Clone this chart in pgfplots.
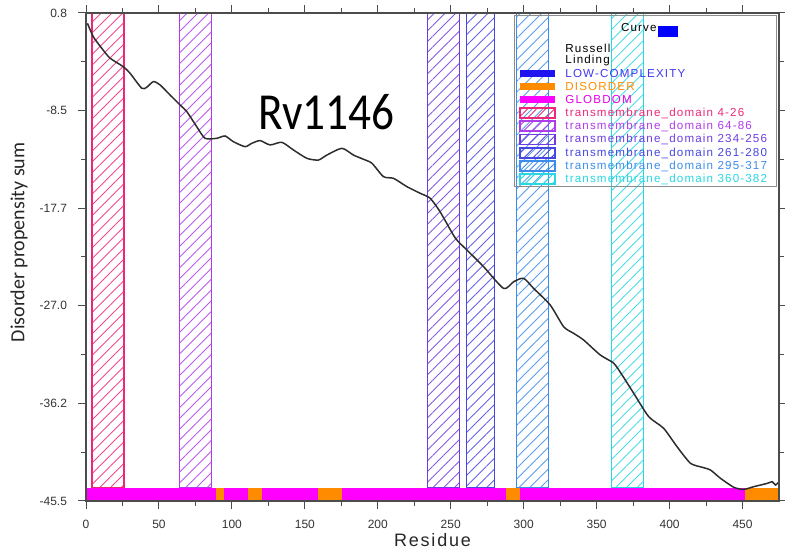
\documentclass[border=0pt]{standalone}
\usepackage{pgfplots}
\pgfplotsset{compat=1.18}
\usepackage{fontspec}
\setmainfont{Liberation Sans}
\newfontfamily\carl{Carlito}
\newfontfamily\legfont{Liberation Sans}[LetterSpace=10]
\usetikzlibrary{patterns.meta}

\definecolor{tmA}{RGB}{238,40,120}
\definecolor{tmB}{RGB}{175,60,235}
\definecolor{tmC}{RGB}{110,60,225}
\definecolor{tmD}{RGB}{70,70,225}
\definecolor{tmE}{RGB}{60,140,235}
\definecolor{tmF}{RGB}{40,215,225}
\definecolor{globdom}{RGB}{255,0,255}
\definecolor{disorder}{RGB}{255,140,0}
\definecolor{lowc}{RGB}{30,20,240}
\definecolor{curvecol}{RGB}{45,45,45}

% hatched transmembrane band between residues #1 and #2
\newcommand{\tmband}[3]{%
  \addplot[draw=#3, line width=0.7pt,
    pattern={Lines[angle=45,distance=3.8pt,line width=0.45pt]}, pattern color=#3!85]
    coordinates {(#1,-44.24) (#2,-44.24) (#2,0.8) (#1,0.8)} --cycle;}
% domain bar segment along the bottom
\newcommand{\dombar}[3]{%
  \addplot[fill=#3, draw=none]
    coordinates {(#1,-45.5) (#2,-45.5) (#2,-44.24) (#1,-44.24)} --cycle;}

\begin{document}
\begin{tikzpicture}[x=0.5pt,y=0.5pt]
\useasboundingbox (0,0) rectangle (785,555);
\begin{axis}[
  at={(43pt,27pt)}, anchor=south west,
  scale only axis, width=346.5pt, height=244pt,
  xmin=0, xmax=475, ymin=-45.5, ymax=0.8,
  axis on top,
  xtick={0,50,...,450}, minor x tick num=1,
  ytick={-45.5,-36.24,-26.98,-17.72,-8.46,0.8},
  yticklabels={-45.5,-36.2,-27.0,-17.7,-8.5,0.8},
  minor y tick num=1,
  tick align=outside,
  major tick length=4pt, minor tick length=2.5pt,
  every tick/.style={black!70, line width=0.5pt},
  axis line style={black!70, line width=0.6pt},
  tick label style={font=\fontsize{6}{7}\selectfont, text=black!80},
  /pgf/number format/assume math mode=true,
  xticklabel style={yshift=-2pt},
  yticklabel style={xshift=-2pt},
  xlabel={Residue},
  xlabel style={at={(axis description cs:0.5,0)}, anchor=center, yshift=-19.5pt,
    font=\legfont\fontsize{9}{10}\selectfont, text=black!85},
  ylabel={Disorder propensity sum},
  ylabel style={at={(axis description cs:0,0.53)}, anchor=center, yshift=33.5pt,
    font=\carl\fontsize{10}{11}\selectfont, text=black!85},
]
% transmembrane domains
\tmband{4}{26}{tmA}
\tmband{64}{86}{tmB}
\tmband{234}{256}{tmC}
\tmband{261}{280}{tmD}
\tmband{295}{317}{tmE}
\tmband{360}{382}{tmF}

% GlobDom and disorder segments
\dombar{0}{475}{globdom}
\dombar{89.2}{94.7}{disorder}
\dombar{111.1}{120.7}{disorder}
\dombar{159.1}{175.6}{disorder}
\dombar{288.1}{297.7}{disorder}
\dombar{452}{475}{disorder}

% cumulative disorder propensity
\addplot[curvecol, line width=0.75pt, smooth, tension=0.4] coordinates {
(1,-0.18) (5.0,-1.45) (10.8,-2.55) (16.5,-3.49) (25.6,-4.30) (30.2,-4.92)
(38.2,-6.34) (41.6,-6.25) (46.2,-5.71) (50.8,-6.03) (57.6,-6.98) (64.5,-7.93)
(69.1,-8.56) (75.9,-9.99) (81.6,-11.09) (89.6,-11.09) (95.3,-10.87)
(101.0,-11.41) (109.0,-11.88) (113.6,-11.57) (119.3,-11.31) (126.2,-11.72)
(134.2,-11.47) (142.2,-12.20) (151.4,-12.99) (159.3,-13.15) (165.1,-12.68)
(175.4,-12.04) (183.3,-12.68) (190.2,-13.08) (196.0,-13.46) (203.9,-14.73)
(210.8,-14.89) (220.0,-15.68) (229.1,-16.31) (235.9,-16.78) (242.8,-18.08)
(253.1,-20.55) (261.1,-21.69) (272.5,-23.27) (286.2,-25.33) (293.1,-24.70)
(299.9,-24.37) (306.8,-25.33) (318.2,-26.91) (327.4,-28.97) (334.2,-29.59)
(341.1,-30.23) (352.5,-31.65) (361.7,-32.43) (367.4,-33.54) (375.4,-35.28)
(385.7,-37.50) (395.9,-38.60) (405.1,-40.35) (414.3,-41.92) (422.3,-42.30)
(428.0,-42.56) (434.8,-43.34) (444.0,-44.20) (450.8,-44.40) (457.7,-44.14)
(466.9,-43.83) (470.3,-43.67) (472.6,-43.98) (475,-43.67)
};
\end{axis}

% protein name
\node[anchor=base west, inner sep=0, xscale=0.87, font=\carl\fontsize{26}{28}\selectfont]
  at (258,425.7) {Rv1146};

% legend
\draw[black!45, line width=0.5pt] (514,539) rectangle (776,368);
\begin{scope}[every node/.style={anchor=west, inner sep=0, font=\legfont\fontsize{5.8}{6}\selectfont}]
\node[anchor=east] at (657,527) {Curve};
\fill[blue] (658,529) rectangle (678,518);
\node at (565,507) {Russell};
\node at (565,494) {Linding};
\fill[lowc] (520,485) rectangle (555,477.5);
\node[text=lowc!85] at (565,481.5) {LOW-COMPLEXITY};
\fill[disorder] (520,472) rectangle (555,464.5);
\node[text=disorder] at (565,468.5) {DISORDER};
\fill[globdom] (520,459) rectangle (555,451.5);
\node[text=globdom!90!black] at (565,455) {GLOBDOM};
\foreach \yc/\col/\txt in {442/tmA/4-26, 429/tmB/64-86, 415.5/tmC/234-256,
    402/tmD/261-280, 389/tmE/295-317, 376/tmF/360-382}{
  \draw[\col, line width=0.6pt,
    pattern={Lines[angle=45,distance=3.2pt,line width=0.45pt]}, pattern color=\col]
    (520,\yc-5) rectangle (555,\yc+5);
  \node[text=\col] at (565,\yc) {transmembrane\_domain \txt};
}
\end{scope}
\end{tikzpicture}
\end{document}
